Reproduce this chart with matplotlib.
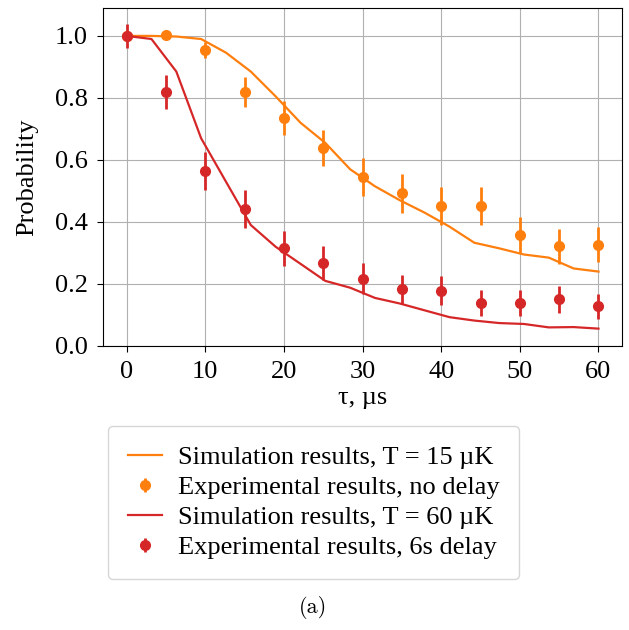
import matplotlib
matplotlib.use("Agg")
import matplotlib.pyplot as plt
from matplotlib.container import ErrorbarContainer
from matplotlib.legend_handler import HandlerErrorbar

plt.rcParams["font.family"] = ["Liberation Serif", "DejaVu Serif"]

# Simulation curves (20 time steps from 0 to 60 us)
sim_t = [0.0, 3.16, 6.32, 9.47, 12.63, 15.79, 18.95, 22.11, 25.26, 28.42,
         31.58, 34.74, 37.89, 41.05, 44.21, 47.37, 50.53, 53.68, 56.84, 60.0]
sim_15uK = [1.0, 1.0, 0.998, 0.99, 0.946, 0.885, 0.805, 0.72, 0.655, 0.57,
            0.515, 0.47, 0.43, 0.385, 0.333, 0.315, 0.295, 0.285, 0.25, 0.24]
sim_60uK = [1.0, 0.99, 0.885, 0.67, 0.53, 0.39, 0.32, 0.265, 0.21, 0.188,
            0.155, 0.137, 0.115, 0.093, 0.082, 0.074, 0.071, 0.06, 0.061, 0.056]

# Experimental points
exp_t = [0, 5, 10, 15, 20, 25, 30, 35, 40, 45, 50, 55, 60]
exp_nodelay = [1.0, 1.003, 0.955, 0.82, 0.735, 0.638, 0.545, 0.492, 0.452, 0.452, 0.358, 0.322, 0.327]
err_nodelay = [0.01, 0.008, 0.026, 0.048, 0.055, 0.058, 0.06, 0.062, 0.062, 0.062, 0.059, 0.056, 0.057]
exp_6s = [1.0, 0.82, 0.565, 0.442, 0.315, 0.268, 0.217, 0.183, 0.178, 0.138, 0.138, 0.15, 0.128]
err_6s = [0.04, 0.055, 0.062, 0.061, 0.056, 0.054, 0.05, 0.047, 0.047, 0.042, 0.042, 0.044, 0.04]

labels = ["Simulation results, T = 15 \u00b5K", "Experimental results, no delay",
          "Simulation results, T = 60 \u00b5K", "Experimental results, 6s delay"]

FS = 19

fig = plt.figure(figsize=(6.29, 6.30), dpi=100)
ax = fig.add_axes([0.1638, 0.4508, 0.8252, 0.5365])

l1, = ax.plot(sim_t, sim_15uK, color="tab:orange", lw=1.6)
e1 = ax.errorbar(exp_t, exp_nodelay, yerr=err_nodelay, fmt="o", color="tab:orange",
                 ms=7, elinewidth=2)
l2, = ax.plot(sim_t, sim_60uK, color="tab:red", lw=1.6)
e2 = ax.errorbar(exp_t, exp_6s, yerr=err_6s, fmt="o", color="tab:red",
                 ms=7, elinewidth=2)

ax.set_xlim(-3, 63)
ax.set_ylim(0, 1.09)
ax.set_xticks([0, 10, 20, 30, 40, 50, 60])
ax.set_yticks([0.0, 0.2, 0.4, 0.6, 0.8, 1.0])
ax.tick_params(labelsize=FS, length=4, pad=7)
ax.grid(True)
ax.set_xlabel("\u03c4, \u00b5s", fontsize=FS, labelpad=3)
ax.set_ylabel("Probability", fontsize=FS, labelpad=12)

fig.legend([l1, e1, l2, e2], labels,
           loc="upper center", bbox_to_anchor=(0.4985, 0.3238), borderaxespad=0,
           fontsize=FS, labelspacing=0.25, handlelength=1.3, handletextpad=0.6,
           borderpad=0.75,
           handler_map={ErrorbarContainer: HandlerErrorbar(yerr_size=0.27)})

fig.text(0.497, 0.0365, "(a)", family="cmr10", fontsize=16, ha="center", va="center")

fig.savefig("out.png", dpi=100)
